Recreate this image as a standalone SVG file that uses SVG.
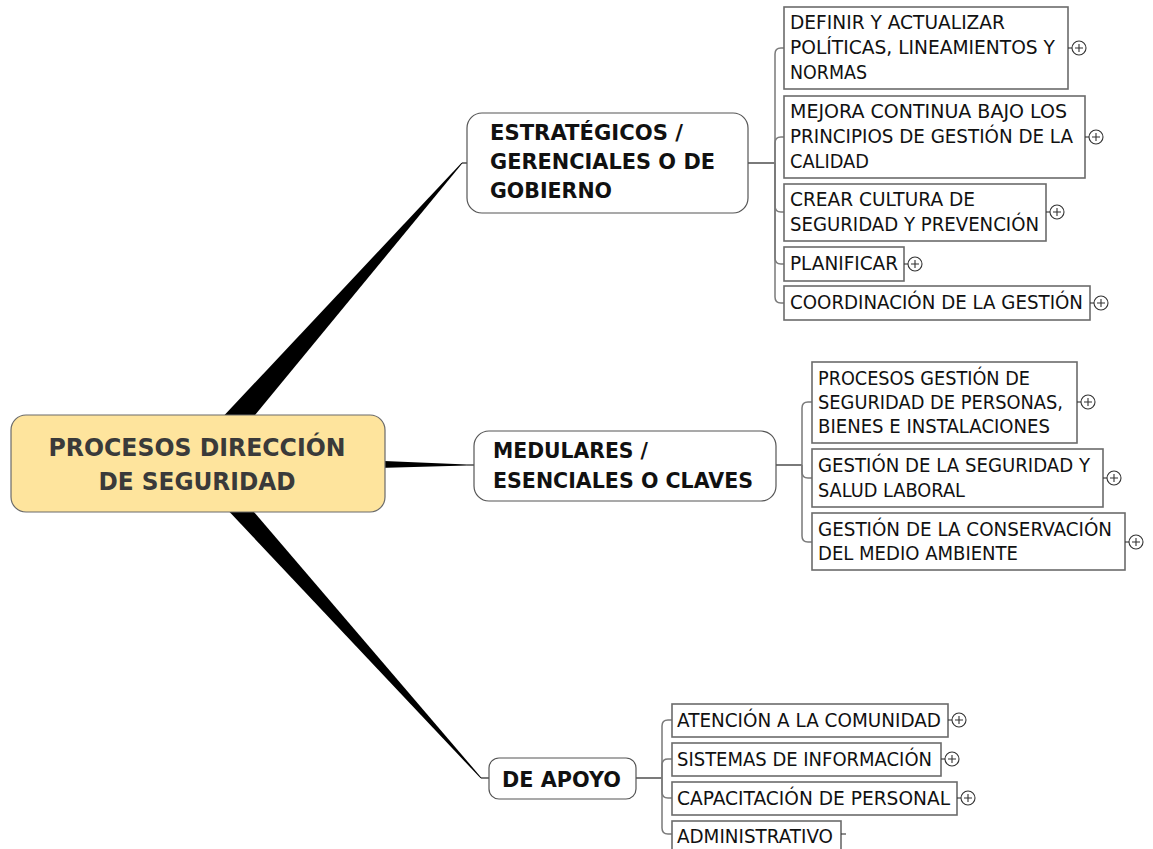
<svg xmlns="http://www.w3.org/2000/svg" width="1153" height="849" viewBox="0 0 1153 849">
<defs>
<style>
.bg{fill:#ffffff}
.taper{fill:#000000}
.tick{stroke:#222;stroke-width:1.2;fill:none}
.trunk{stroke:#7a7a7a;stroke-width:1.5;fill:none}
.central{fill:#fee49d;stroke:#6a6a6a;stroke-width:1.2}
.main{fill:#ffffff;stroke:#555555;stroke-width:1.2}
.leaf{fill:#ffffff;stroke:#6b6b6b;stroke-width:1.6}
.ct{font-family:"DejaVu Sans",Verdana,sans-serif;font-weight:bold;font-size:25px;fill:#3a3a3a}
.mt{font-family:"DejaVu Sans",Verdana,sans-serif;font-weight:bold;font-size:22px;fill:#111}
.lt{font-family:"DejaVu Sans",Verdana,sans-serif;font-size:19px;fill:#111}
.plus circle{fill:#fff;stroke:#333;stroke-width:1.1}
.plus path{stroke:#333;stroke-width:1.1;fill:none}
</style>
</defs>
<rect class="bg" x="0" y="0" width="1153" height="849"/>

<g id="connectors">
  <polygon class="taper" points="188,454 208,472 462.4,163.3 461.6,162.7"/>
  <line class="tick" x1="462" y1="163" x2="468" y2="163"/>
  <polygon class="taper" points="198,453 198,473 467,465.5 467,464.5"/>
  <line class="tick" x1="467" y1="465" x2="474" y2="465"/>
  <polygon class="taper" points="206,456 190,470 480.6,778.3 481.4,777.7"/>
  <line class="tick" x1="481" y1="778" x2="489" y2="778"/>

  <line class="tick" x1="748" y1="163" x2="775" y2="163"/>
  <path class="trunk" d="M775,163 V54 Q775,48 781,48 H784"/>
  <path class="trunk" d="M775,163 V143 Q775,137 781,137 H784"/>
  <path class="trunk" d="M775,163 V206 Q775,212 781,212 H784"/>
  <path class="trunk" d="M775,163 V258 Q775,264 781,264 H784"/>
  <path class="trunk" d="M775,163 V297 Q775,303 781,303 H784"/>

  <line class="tick" x1="776" y1="465" x2="802" y2="465"/>
  <path class="trunk" d="M802,465 V408 Q802,402 808,402 H812"/>
  <path class="trunk" d="M802,465 V472 Q802,478 808,478 H812"/>
  <path class="trunk" d="M802,465 V536 Q802,542 808,542 H812"/>

  <line class="tick" x1="636" y1="778" x2="662" y2="778"/>
  <path class="trunk" d="M662,778 V726 Q662,720 668,720 H672"/>
  <path class="trunk" d="M662,778 V765 Q662,759 668,759 H672"/>
  <path class="trunk" d="M662,778 V792 Q662,798 668,798 H672"/>
  <path class="trunk" d="M662,778 V828 Q662,834 668,834 H672"/>
</g>

<g id="central">
  <rect class="central" x="11" y="415" width="374" height="97" rx="15" ry="15"/>
  <text class="ct" x="197" y="456" text-anchor="middle" textLength="297" lengthAdjust="spacingAndGlyphs">PROCESOS DIRECCIÓN</text>
  <text class="ct" x="197" y="490" text-anchor="middle" textLength="197" lengthAdjust="spacingAndGlyphs">DE SEGURIDAD</text>
</g>

<g id="estrategicos">
  <rect class="main" x="467" y="113" width="281" height="100" rx="15" ry="15"/>
  <text class="mt" x="490" y="140" textLength="193" lengthAdjust="spacingAndGlyphs">ESTRATÉGICOS /</text>
  <text class="mt" x="490" y="169" textLength="225" lengthAdjust="spacingAndGlyphs">GERENCIALES O DE</text>
  <text class="mt" x="490" y="198" textLength="122" lengthAdjust="spacingAndGlyphs">GOBIERNO</text>
</g>

<g id="medulares">
  <rect class="main" x="474" y="431" width="302" height="70" rx="15" ry="15"/>
  <text class="mt" x="493" y="458" textLength="155" lengthAdjust="spacingAndGlyphs">MEDULARES /</text>
  <text class="mt" x="493" y="488" textLength="260" lengthAdjust="spacingAndGlyphs">ESENCIALES O CLAVES</text>
</g>

<g id="apoyo">
  <rect class="main" x="489" y="758" width="147" height="41" rx="10" ry="10"/>
  <text class="mt" x="502" y="787" textLength="119" lengthAdjust="spacingAndGlyphs">DE APOYO</text>
</g>

<g id="definir">
  <rect class="leaf" x="784" y="7" width="284" height="82"/>
  <text class="lt" x="790" y="29" textLength="215" lengthAdjust="spacingAndGlyphs">DEFINIR Y ACTUALIZAR</text>
  <text class="lt" x="790" y="54" textLength="265" lengthAdjust="spacingAndGlyphs">POLÍTICAS, LINEAMIENTOS Y</text>
  <text class="lt" x="790" y="79" textLength="77" lengthAdjust="spacingAndGlyphs">NORMAS</text>
  <g class="plus"><path d="M1068,48 H1072"/><circle cx="1079" cy="48" r="7"/><path d="M1075,48 H1083 M1079,44 V52"/></g>
</g>

<g id="mejora">
  <rect class="leaf" x="784" y="96" width="301" height="82"/>
  <text class="lt" x="790" y="118" textLength="277" lengthAdjust="spacingAndGlyphs">MEJORA CONTINUA BAJO LOS</text>
  <text class="lt" x="790" y="143" textLength="283" lengthAdjust="spacingAndGlyphs">PRINCIPIOS DE GESTIÓN DE LA</text>
  <text class="lt" x="790" y="168" textLength="79" lengthAdjust="spacingAndGlyphs">CALIDAD</text>
  <g class="plus"><path d="M1085,137 H1089"/><circle cx="1096" cy="137" r="7"/><path d="M1092,137 H1100 M1096,133 V141"/></g>
</g>

<g id="crear">
  <rect class="leaf" x="784" y="184" width="262" height="57"/>
  <text class="lt" x="790" y="206" textLength="185" lengthAdjust="spacingAndGlyphs">CREAR CULTURA DE</text>
  <text class="lt" x="790" y="231" textLength="249" lengthAdjust="spacingAndGlyphs">SEGURIDAD Y PREVENCIÓN</text>
  <g class="plus"><path d="M1046,212 H1050"/><circle cx="1057" cy="212" r="7"/><path d="M1053,212 H1061 M1057,208 V216"/></g>
</g>

<g id="planificar">
  <rect class="leaf" x="784" y="247" width="120" height="34"/>
  <text class="lt" x="790" y="270" textLength="108" lengthAdjust="spacingAndGlyphs">PLANIFICAR</text>
  <g class="plus"><path d="M904,264 H908"/><circle cx="915" cy="264" r="7"/><path d="M911,264 H919 M915,260 V268"/></g>
</g>

<g id="coordinacion">
  <rect class="leaf" x="784" y="286" width="306" height="34"/>
  <text class="lt" x="790" y="309" textLength="293" lengthAdjust="spacingAndGlyphs">COORDINACIÓN DE LA GESTIÓN</text>
  <g class="plus"><path d="M1090,303 H1094"/><circle cx="1101" cy="303" r="7"/><path d="M1097,303 H1105 M1101,299 V307"/></g>
</g>

<g id="procesos-gestion">
  <rect class="leaf" x="812" y="362" width="265" height="81"/>
  <text class="lt" x="818" y="385" textLength="212" lengthAdjust="spacingAndGlyphs">PROCESOS GESTIÓN DE</text>
  <text class="lt" x="818" y="409" textLength="245" lengthAdjust="spacingAndGlyphs">SEGURIDAD DE PERSONAS,</text>
  <text class="lt" x="818" y="433" textLength="232" lengthAdjust="spacingAndGlyphs">BIENES E INSTALACIONES</text>
  <g class="plus"><path d="M1077,402 H1081"/><circle cx="1088" cy="402" r="7"/><path d="M1084,402 H1092 M1088,398 V406"/></g>
</g>

<g id="seguridad-salud">
  <rect class="leaf" x="812" y="449" width="291" height="58"/>
  <text class="lt" x="818" y="472" textLength="272" lengthAdjust="spacingAndGlyphs">GESTIÓN DE LA SEGURIDAD Y</text>
  <text class="lt" x="818" y="497" textLength="147" lengthAdjust="spacingAndGlyphs">SALUD LABORAL</text>
  <g class="plus"><path d="M1103,478 H1107"/><circle cx="1114" cy="478" r="7"/><path d="M1110,478 H1118 M1114,474 V482"/></g>
</g>

<g id="conservacion">
  <rect class="leaf" x="812" y="513" width="313" height="57"/>
  <text class="lt" x="818" y="536" textLength="294" lengthAdjust="spacingAndGlyphs">GESTIÓN DE LA CONSERVACIÓN</text>
  <text class="lt" x="818" y="560" textLength="200" lengthAdjust="spacingAndGlyphs">DEL MEDIO AMBIENTE</text>
  <g class="plus"><path d="M1125,542 H1129"/><circle cx="1136" cy="542" r="7"/><path d="M1132,542 H1140 M1136,538 V546"/></g>
</g>

<g id="atencion">
  <rect class="leaf" x="672" y="704" width="276" height="33"/>
  <text class="lt" x="677" y="727" textLength="264" lengthAdjust="spacingAndGlyphs">ATENCIÓN A LA COMUNIDAD</text>
  <g class="plus"><path d="M948,720 H952"/><circle cx="959" cy="720" r="7"/><path d="M955,720 H963 M959,716 V724"/></g>
</g>

<g id="sistemas">
  <rect class="leaf" x="672" y="743" width="269" height="33"/>
  <text class="lt" x="677" y="766" textLength="255" lengthAdjust="spacingAndGlyphs">SISTEMAS DE INFORMACIÓN</text>
  <g class="plus"><path d="M941,759 H945"/><circle cx="952" cy="759" r="7"/><path d="M948,759 H956 M952,755 V763"/></g>
</g>

<g id="capacitacion">
  <rect class="leaf" x="672" y="782" width="285" height="33"/>
  <text class="lt" x="677" y="805" textLength="273" lengthAdjust="spacingAndGlyphs">CAPACITACIÓN DE PERSONAL</text>
  <g class="plus"><path d="M957,798 H961"/><circle cx="968" cy="798" r="7"/><path d="M964,798 H972 M968,794 V802"/></g>
</g>

<g id="administrativo">
  <rect class="leaf" x="672" y="821" width="169" height="40"/>
  <text class="lt" x="677" y="843" textLength="156" lengthAdjust="spacingAndGlyphs">ADMINISTRATIVO</text>
  <path d="M841,834 H846" stroke="#333" stroke-width="1.1" fill="none"/>
</g>
</svg>
